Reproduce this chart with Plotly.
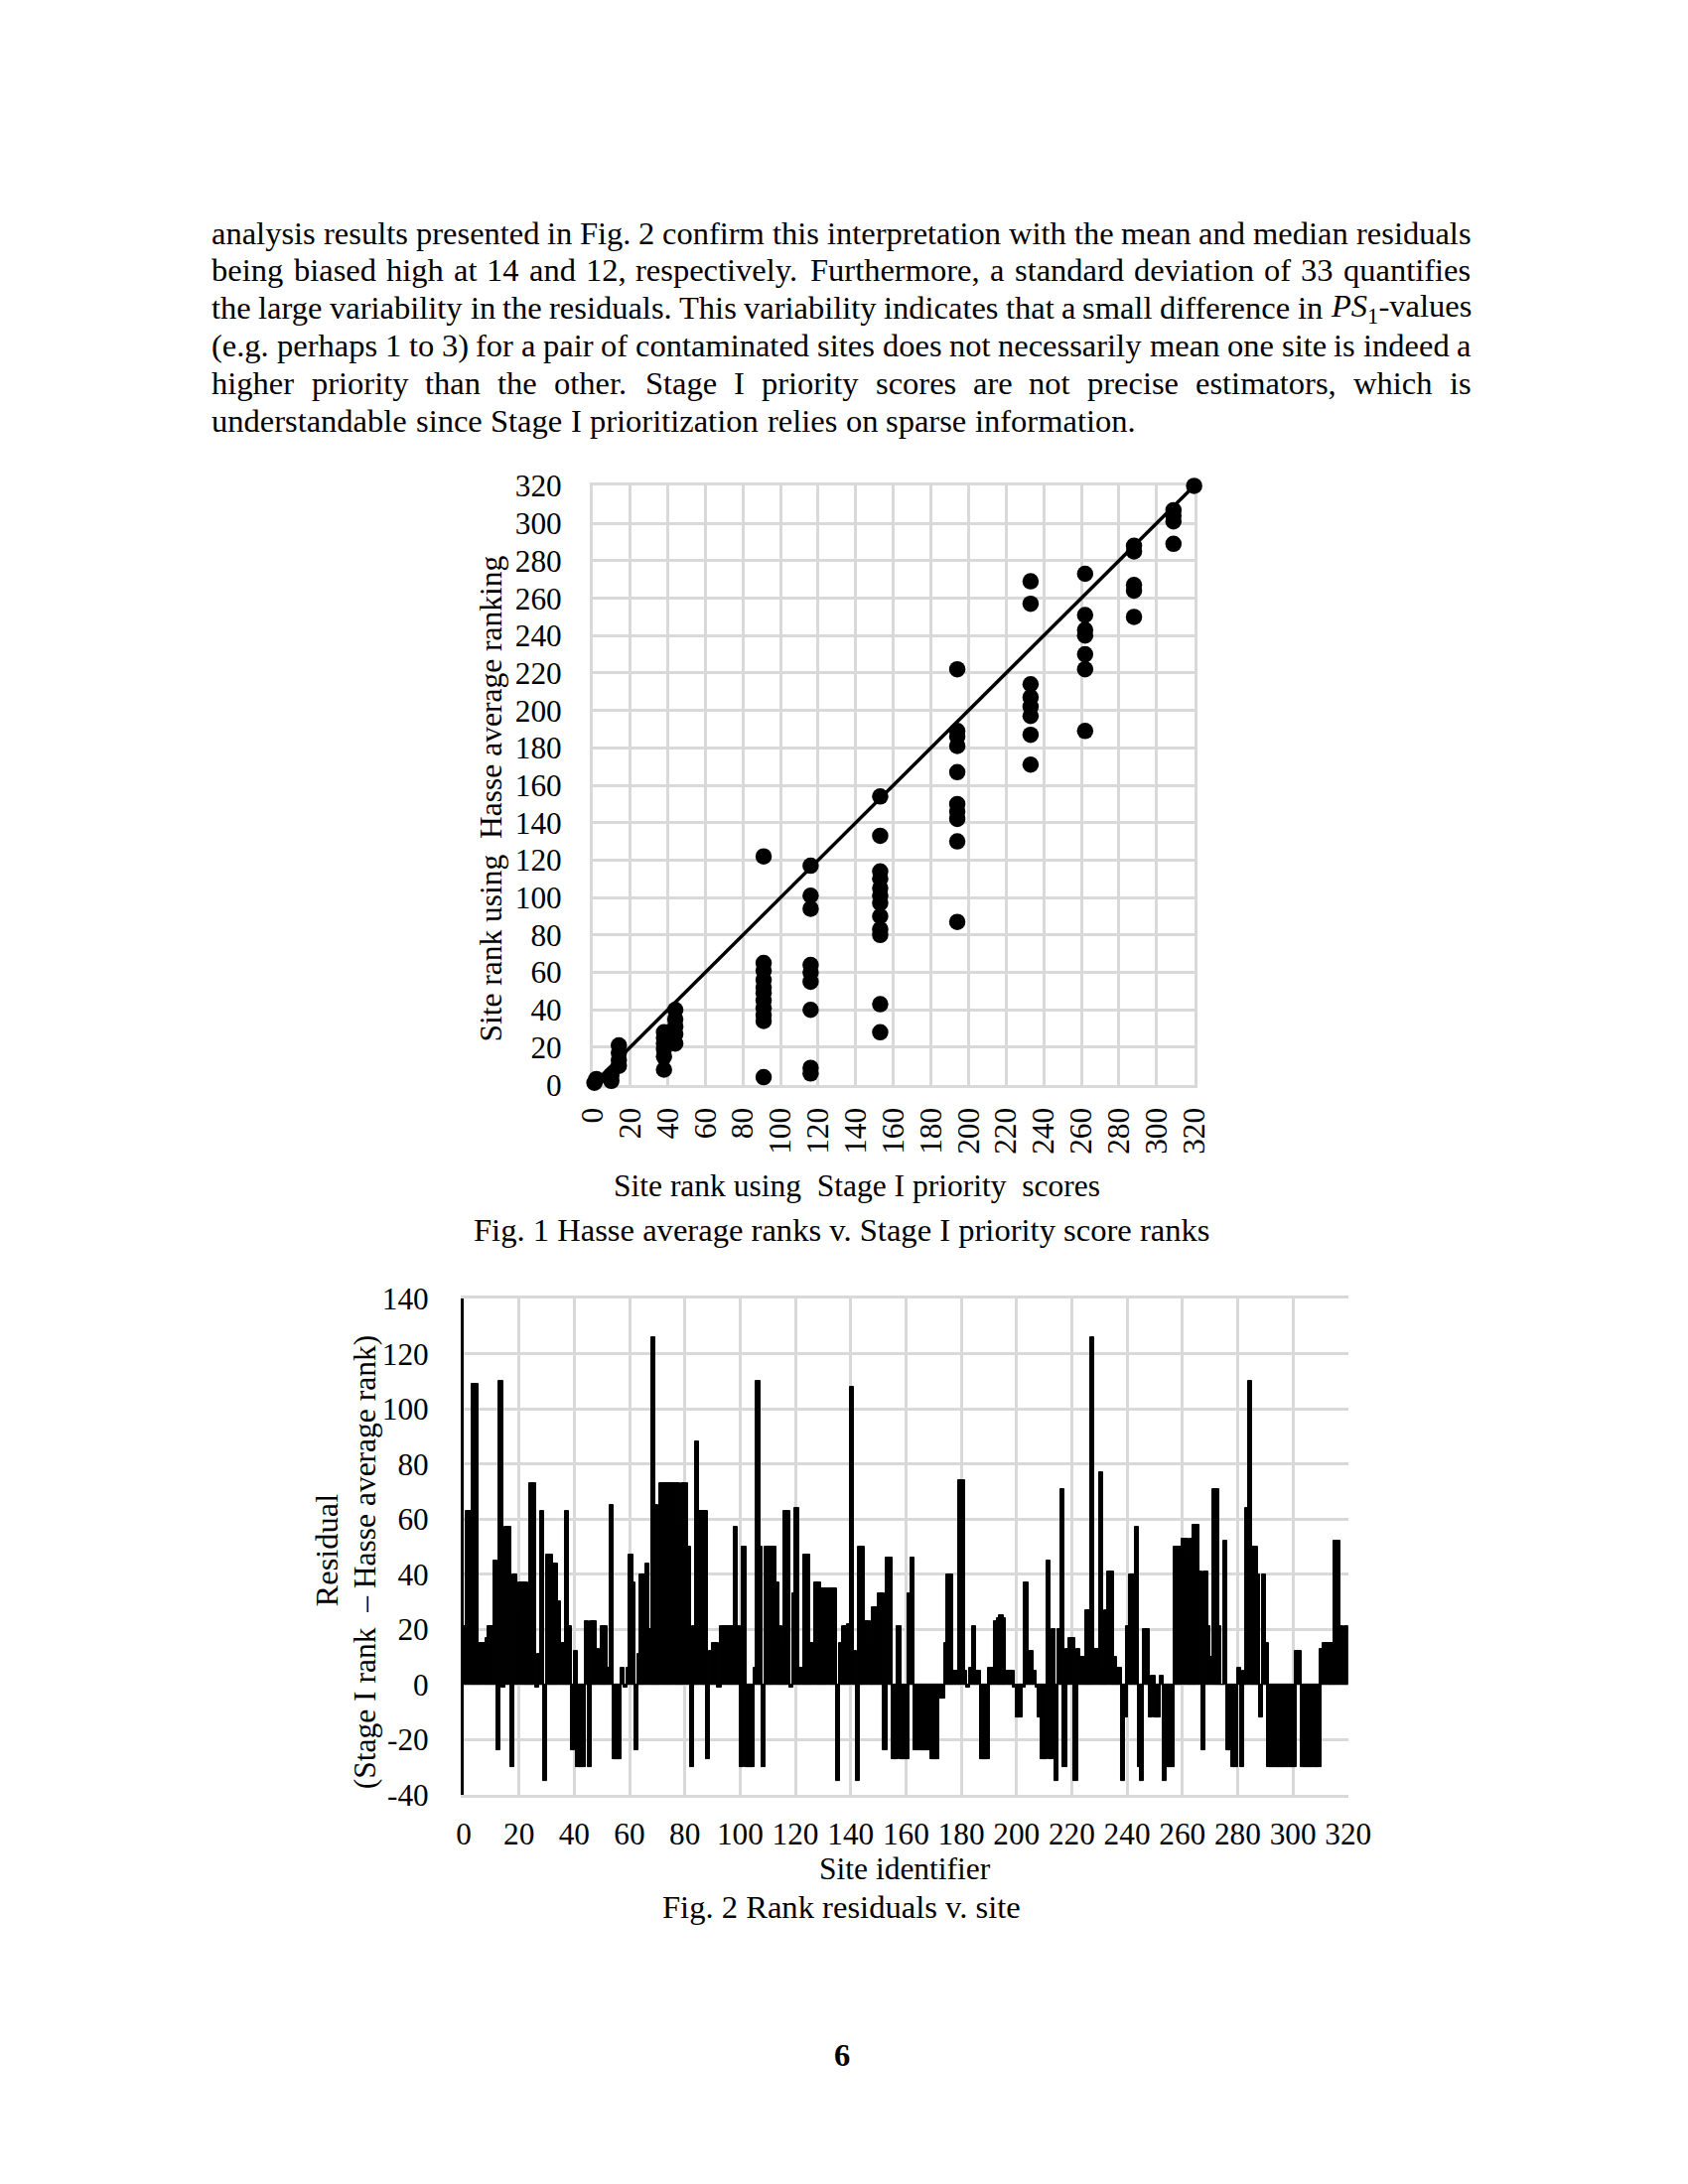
import plotly.graph_objects as go

# ---------------- DATA ----------------
# Fig. 1 : Stage I rank (x) vs Hasse average rank (y)
stage1_rank = ([1, 2] + [10, 10] + [14] * 4 + [38] * 6 + [44] * 5 + [91] * 11 + [116] * 9 +
               [153] * 12 + [194] * 10 + [233] * 8 + [262] * 7 + [288] * 5 + [309] * 4 + [320])
hasse_rank = ([1, 3] + [2, 5] + [10, 13, 17, 21] + [28, 25, 22, 19, 15, 8] + [40, 35, 31, 27, 22] +
              [122, 65, 61, 56, 52, 49, 45, 41, 37, 34, 4] +
              [117, 101, 94, 64, 60, 55, 40, 9, 6] +
              [154, 133, 114, 110, 105, 101, 97, 90, 83, 80, 43, 28] +
              [222, 189, 186, 181, 167, 150, 146, 142, 130, 87] +
              [269, 257, 214, 207, 202, 197, 187, 171] +
              [273, 251, 243, 240, 230, 222, 189] +
              [288, 285, 267, 264, 250] +
              [307, 304, 301, 289] + [320])
fit_x = [1, 320]
fit_y = [1, 320]

# Fig. 2 : residuals by site identifier (1..320)
residuals = [
    21, 63, 63, 109, 109, 15, 15, 15, 17, 21,
    21, 45, -24, 110, -1, 57, 57, -30, 40, 25,
    37, 37, 37, 33, 73, 73, -1, 11, 63, -35,
    47, 47, 44, 44, 30, 15, 15, 63, 21, -24,
    12, -30, -30, -30, 23, -30, 23, 23, 13, 10,
    21, 21, 6, 65, -27, -27, -27, 6, -1, 6,
    47, 37, -24, 11, 40, 40, 44, 20, 126, 65,
    21, 73, 73, 73, 73, 73, 73, 73, 57, 73,
    73, 50, -30, 21, 88, 63, 63, 63, -27, 12,
    15, 15, -1, 21, 21, 21, 21, 21, 57, 21,
    -30, 50, -30, -30, -30, 6, 110, 50, -30, 50,
    50, 50, 50, 37, 21, 12, 63, 63, -1, 33,
    64, 6, 6, 47, 47, 15, 15, 37, 37, 35,
    35, 35, 35, 35, 35, -35, 15, 21, 21, 22,
    108, 12, -35, 50, 50, 23, 23, 12, 28, 28,
    33, 33, -24, 46, 46, -27, -27, 21, -27, -27,
    -27, 33, 46, -24, -24, -24, -24, -24, -24, -27,
    -27, -27, -5, -5, 15, 40, 40, 5, 5, 74,
    74, 5, -1, 6, 21, 5, 5, -27, -27, -27,
    6, 6, 23, 24, 25, 24, 5, 5, 5, -1,
    -12, -12, -1, 37, 12, 12, 5, -1, -12, -27,
    -27, 45, -27, 20, -35, 20, 71, -30, 13, 17,
    17, -35, 13, 10, 10, 27, 27, 126, 13, 13,
    77, 5, 27, 41, 41, 10, 6, 6, -35, -12,
    21, 40, 40, 57, -30, -35, 20, 20, -12, 3,
    -12, -12, 3, -35, -30, -30, -30, 50, 50, 50,
    53, 53, 44, 53, 58, 58, 41, -24, 41, 21,
    10, 71, 71, 21, 0, 52, -24, -24, -30, -30,
    6, -30, 5, 64, 110, 50, 50, 40, -12, 40,
    15, -30, -30, -30, -30, -30, -30, -30, -30, -30,
    -30, 12, 12, -30, -30, -30, -30, -30, -30, -30,
    13, 15, 15, 15, 15, 52, 52, 21, 15, 21,
]
site_ids = list(range(1, len(residuals) + 1))

axis_ticks = list(range(0, 321, 20))
res_ticks = list(range(-40, 141, 20))
res_tick_text = [str(v) for v in res_ticks]

paragraph = [
    "analysis results presented in Fig. 2 confirm this interpretation with the mean and median residuals",
    "being biased high at 14 and 12, respectively. Furthermore, a standard deviation of 33 quantifies",
    "the large variability in the residuals. This variability indicates that a small difference in PS1-values",
    "(e.g. perhaps 1 to 3) for a pair of contaminated sites does not necessarily mean one site is indeed a",
    "higher priority than the other. Stage I priority scores are not precise estimators, which is",
    "understandable since Stage I prioritization relies on sparse information.",
]

# ---------------- LAYOUT HELPERS ----------------
W, H = 1684, 2184   # browser body margin of 8px
OFF = 8
def fx(px):
    return (px - OFF) / W
def fy(py):
    return 1 - (py - OFF) / H

SERIF = "Liberation Serif"
BODY = 32.5
RENDER_K = 1.03   # rendered glyph advances are a little wider than nominal metrics

# Times / Liberation Serif advance widths (1/1000 em)
MET = {' ': 250, '(': 333, ')': 333, ',': 250, '-': 333, '.': 250}
for c in '0123456789':
    MET[c] = 500
MET.update(dict(zip('abcdefghijklmnopqrstuvwxyz',
                    [444, 500, 444, 500, 444, 333, 500, 500, 278, 278, 500, 278, 778, 500, 500, 500, 500,
                     333, 389, 278, 500, 500, 722, 500, 500, 444])))
MET.update(dict(zip('ABCDEFGHIJKLMNOPQRSTUVWXYZ',
                    [722, 667, 667, 722, 611, 556, 722, 722, 333, 389, 722, 611, 889, 722, 722, 556, 722,
                     667, 556, 611, 722, 722, 944, 722, 722, 611])))

def word_width(w):
    if w == "PS1-values":
        return 4349 * BODY / 1000 * RENDER_K
    return sum(MET.get(c, 500) for c in w) * BODY / 1000 * RENDER_K

annotations = []
LEFT, RIGHT = 200, 1500
y0, dy = 221, 38.45
for i, line in enumerate(paragraph):
    words = line.split(" ")
    widths = [word_width(w) for w in words]
    if i < len(paragraph) - 1:
        gap = (RIGHT - LEFT - sum(widths)) / (len(words) - 1)
    else:
        gap = 250 * 33.33 / 1000
    x = LEFT
    for w, wd in zip(words, widths):
        txt = "<i>PS</i><sub>1</sub>-values" if w == "PS1-values" else w
        annotations.append(dict(text=txt, x=fx(x - 1), y=fy(y0 + i * dy), xref="paper", yref="paper",
                                xanchor="left", yanchor="middle", showarrow=False,
                                width=wd + 40, align="left", borderpad=0,
                                font=dict(family=SERIF, size=BODY, color="black")))
        x += wd + gap

def label(text, x, y, size=32.6, angle=0, bold=False):
    annotations.append(dict(text=f"<b>{text}</b>" if bold else text, x=fx(x), y=fy(y),
                            xref="paper", yref="paper", xanchor="center", yanchor="middle",
                            showarrow=False, textangle=angle,
                            font=dict(family=SERIF, size=size, color="black")))

label("Fig. 1 Hasse average ranks v. Stage I priority score ranks", 850, 1242)
label("Site rank using  Stage I priority  scores", 866, 1197, size=31.5)
label("Site rank using  Hasse average ranking", 488, 800, size=31.5, angle=-90)
label("Residual", 319, 1569, size=32.5, angle=-90)
label("(Stage I rank  \u2013 Hasse average rank)", 358, 1582, size=31.5, angle=-90)
label("Site identifier", 916, 1896, size=31.5)
label("Fig. 2 Rank residuals v. site", 850, 1935)
label("6", 850, 2086, bold=True)

GRID = "#d9d9d9"
tickfont = dict(family=SERIF, size=31.3, color="black")

fig = go.Figure()
fig.add_trace(go.Scatter(x=fit_x, y=fit_y, mode="lines", line=dict(color="black", width=3.5),
                         xaxis="x", yaxis="y", showlegend=False, hoverinfo="skip"))
fig.add_trace(go.Scatter(x=stage1_rank, y=hasse_rank, mode="markers",
                         marker=dict(color="black", size=16.5, line=dict(width=0)), cliponaxis=False,
                         xaxis="x", yaxis="y", showlegend=False))
fig.add_trace(go.Bar(x=site_ids, y=residuals, width=1.5, offset=-1.25,
                     marker=dict(color="black", line=dict(color="black", width=1)),
                     xaxis="x2", yaxis="y2", showlegend=False))

fig.update_layout(
    width=W, height=H, margin=dict(l=0, r=0, t=0, b=0),
    paper_bgcolor="white", plot_bgcolor="white", bargap=0, barmode="overlay",
    annotations=annotations,
    xaxis=dict(domain=[fx(593), fx(1214)], range=[0, 320], tickvals=axis_ticks, tickangle=-90,
               showgrid=True, gridcolor=GRID, gridwidth=2.5, zeroline=False,
               showline=True, linecolor=GRID, linewidth=2.5, mirror=True, layer="below traces",
               tickfont=tickfont, ticklabelstandoff=8, anchor="y"),
    yaxis=dict(domain=[fy(1093), fy(480)], range=[0, 320], tickvals=axis_ticks,
               showgrid=True, gridcolor=GRID, gridwidth=2.5, zeroline=False,
               showline=True, linecolor=GRID, linewidth=2.5, mirror=True, layer="below traces",
               tickfont=tickfont, ticklabelstandoff=22, anchor="x"),
    xaxis2=dict(domain=[fx(460), fx(1373)], range=[0, 320], tickvals=axis_ticks, tickangle=0,
                showgrid=True, gridcolor=GRID, gridwidth=2.5, zeroline=False,
                showline=True, linecolor=GRID, linewidth=2.5, mirror=True, layer="below traces",
                tickfont=tickfont, ticklabelstandoff=10, anchor="y2"),
    yaxis2=dict(domain=[fy(1820), fy(1312)], range=[-40, 140], tickvals=res_ticks,
                ticktext=res_tick_text,
                showgrid=True, gridcolor=GRID, gridwidth=2.5, zeroline=False,
                showline=True, linecolor="black", linewidth=3,
                tickfont=tickfont, ticklabelstandoff=26, anchor="x2"),
)

fig.write_html("out.html")
